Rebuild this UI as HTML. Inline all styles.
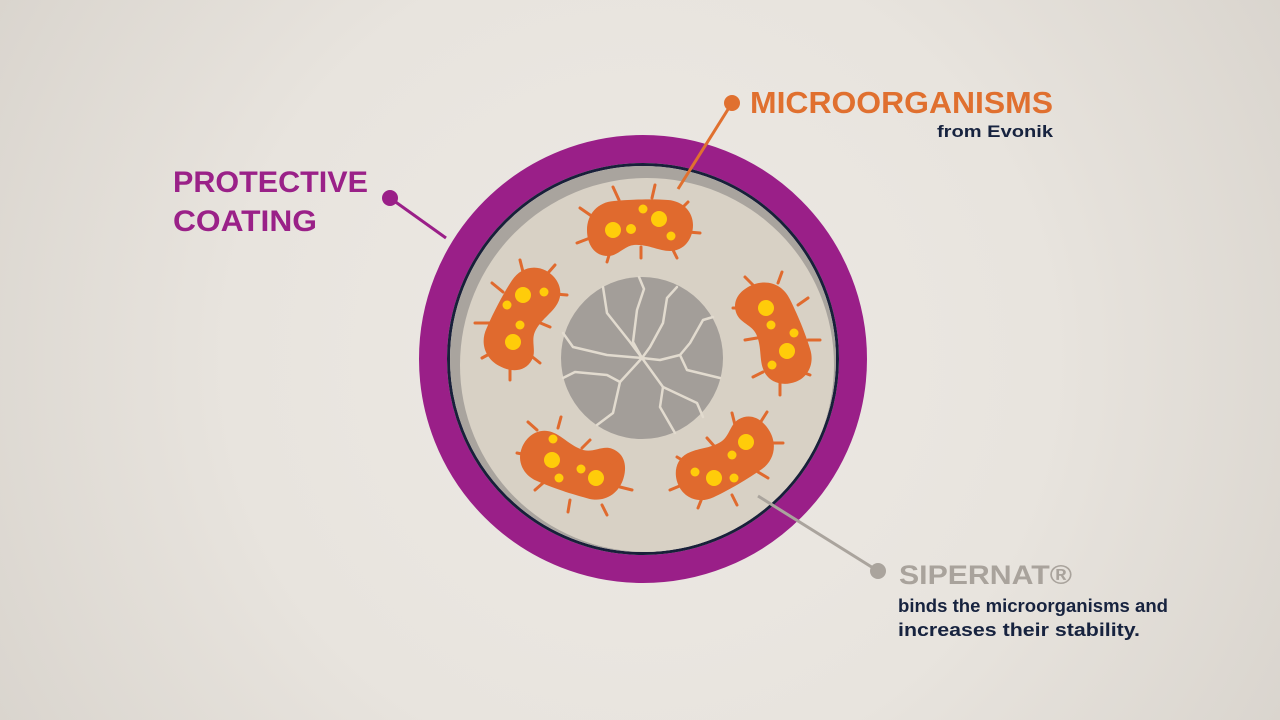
<!DOCTYPE html>
<html>
<head>
<meta charset="utf-8">
<style>
  html, body { margin: 0; padding: 0; width: 1280px; height: 720px; overflow: hidden; }
  body { background: #e6e2dc; }
  svg { display: block; }
</style>
</head>
<body>
<svg width="1280" height="720" viewBox="0 0 1280 720" xmlns="http://www.w3.org/2000/svg">
  <defs>
    <radialGradient id="bg" cx="640" cy="360" r="820" gradientUnits="userSpaceOnUse">
      <stop offset="0" stop-color="#ede9e4"/>
      <stop offset="0.5" stop-color="#e8e4de"/>
      <stop offset="1" stop-color="#d6d1ca"/>
    </radialGradient>
    <clipPath id="inner">
      <circle cx="643" cy="359" r="193"/>
    </clipPath>
    <path id="body" d="M -26,-26 C -5,-28 15,-28 28,-27 C 43,-26 53,-15 53,-2 C 53,12 44,24 30,24 C 18,24 8,17 -6,18 C -16,19 -22,29 -32,29 C -46,29 -53,17 -53,3 C -53,-13 -42,-25 -26,-26 Z"/>
  </defs>

  <rect x="0" y="0" width="1280" height="720" fill="url(#bg)"/>

  <!-- connector lines -->
  <line x1="390" y1="198" x2="446" y2="238" stroke="#9a1f88" stroke-width="3"/>
  <circle cx="390" cy="198" r="8" fill="#9a1f88"/>

  <!-- ring -->
  <circle cx="643" cy="359" r="210" fill="none" stroke="#9a1f88" stroke-width="28"/>
  <circle cx="643" cy="359" r="194.5" fill="none" stroke="#18203a" stroke-width="3"/>
  <circle cx="643" cy="359" r="193" fill="#a9a49e"/>
  <g clip-path="url(#inner)">
    <circle cx="647" cy="365" r="187" fill="#d8d1c5"/>
  </g>

  <!-- core -->
  <circle cx="642" cy="358" r="81" fill="#a39e99"/>
  <g fill="none" stroke="#e2dbcf" stroke-width="2.5" stroke-linejoin="round" stroke-linecap="round">
    <polyline points="603,287 607,313 630,342 642,358"/>
    <polyline points="639,277 644,289 637,310 633,342 642,358"/>
    <polyline points="677,287 667,298 663,323 650,347 642,358"/>
    <polyline points="713,317 703,320 690,343 680,355 660,360 642,358"/>
    <polyline points="680,355 687,370 720,378"/>
    <polyline points="563,333 573,347 607,355 642,358"/>
    <polyline points="563,378 575,372 607,375 620,382"/>
    <polyline points="642,358 620,382 613,413 597,425"/>
    <polyline points="642,358 663,387 660,407 675,433"/>
    <polyline points="663,387 697,403 703,417"/>
  </g>

  <!-- orange connector -->
  <line x1="732" y1="103" x2="678" y2="189" stroke="#e0702f" stroke-width="3"/>
  <circle cx="732" cy="103" r="8" fill="#e0702f"/>

  <!-- bacteria bodies -->
  <g fill="#e06a2e">
    <use href="#body" transform="translate(640,227) rotate(0)"/>
    <use href="#body" transform="translate(522,318) rotate(-61)"/>
    <use href="#body" transform="translate(775,333) rotate(69)"/>
    <use href="#body" transform="translate(572,465) rotate(200)"/>
    <use href="#body" transform="translate(725,460) rotate(151)"/>
  </g>

  <!-- spikes -->
  <g stroke="#e06a2e" stroke-width="3" stroke-linecap="round">
    <!-- top -->
    <line x1="613" y1="187" x2="619" y2="200"/>
    <line x1="655" y1="185" x2="652" y2="198"/>
    <line x1="688" y1="202" x2="682" y2="208"/>
    <line x1="580" y1="208" x2="593" y2="217"/>
    <line x1="700" y1="233" x2="688" y2="232"/>
    <line x1="577" y1="243" x2="590" y2="238"/>
    <line x1="607" y1="262" x2="610" y2="252"/>
    <line x1="641" y1="258" x2="641" y2="247"/>
    <line x1="677" y1="258" x2="672" y2="248"/>
    <!-- left -->
    <line x1="520" y1="260" x2="523" y2="272"/>
    <line x1="555" y1="265" x2="548" y2="273"/>
    <line x1="492" y1="283" x2="503" y2="292"/>
    <line x1="567" y1="295" x2="555" y2="294"/>
    <line x1="475" y1="323" x2="490" y2="323"/>
    <line x1="550" y1="327" x2="538" y2="322"/>
    <line x1="482" y1="358" x2="493" y2="352"/>
    <line x1="540" y1="363" x2="530" y2="355"/>
    <line x1="510" y1="380" x2="510" y2="367"/>
    <!-- right -->
    <line x1="745" y1="277" x2="755" y2="287"/>
    <line x1="782" y1="272" x2="778" y2="283"/>
    <line x1="733" y1="308" x2="745" y2="308"/>
    <line x1="808" y1="298" x2="798" y2="305"/>
    <line x1="745" y1="340" x2="757" y2="338"/>
    <line x1="820" y1="340" x2="808" y2="340"/>
    <line x1="753" y1="377" x2="763" y2="372"/>
    <line x1="810" y1="375" x2="802" y2="372"/>
    <line x1="780" y1="395" x2="780" y2="383"/>
    <!-- bottom-left -->
    <line x1="528" y1="422" x2="537" y2="430"/>
    <line x1="561" y1="417" x2="558" y2="428"/>
    <line x1="517" y1="453" x2="527" y2="455"/>
    <line x1="590" y1="440" x2="582" y2="448"/>
    <line x1="620" y1="457" x2="612" y2="463"/>
    <line x1="535" y1="490" x2="543" y2="483"/>
    <line x1="632" y1="490" x2="620" y2="487"/>
    <line x1="568" y1="512" x2="570" y2="500"/>
    <line x1="607" y1="515" x2="602" y2="505"/>
    <!-- bottom-right -->
    <line x1="732" y1="413" x2="735" y2="425"/>
    <line x1="767" y1="412" x2="760" y2="423"/>
    <line x1="707" y1="438" x2="715" y2="447"/>
    <line x1="783" y1="443" x2="772" y2="443"/>
    <line x1="677" y1="457" x2="687" y2="463"/>
    <line x1="768" y1="478" x2="758" y2="472"/>
    <line x1="670" y1="490" x2="682" y2="485"/>
    <line x1="698" y1="508" x2="702" y2="498"/>
    <line x1="737" y1="505" x2="732" y2="495"/>
  </g>

  <!-- spots -->
  <g fill="#ffcc0a">
    <!-- top -->
    <circle cx="613" cy="230" r="8"/>
    <circle cx="631" cy="229" r="5"/>
    <circle cx="643" cy="209" r="4.5"/>
    <circle cx="659" cy="219" r="8"/>
    <circle cx="671" cy="236" r="4.5"/>
    <!-- left -->
    <circle cx="523" cy="295" r="8"/>
    <circle cx="544" cy="292" r="4.5"/>
    <circle cx="507" cy="305" r="4.5"/>
    <circle cx="520" cy="325" r="4.5"/>
    <circle cx="513" cy="342" r="8"/>
    <!-- right -->
    <circle cx="766" cy="308" r="8"/>
    <circle cx="771" cy="325" r="4.5"/>
    <circle cx="794" cy="333" r="4.5"/>
    <circle cx="787" cy="351" r="8"/>
    <circle cx="772" cy="365" r="4.5"/>
    <!-- bottom-left -->
    <circle cx="553" cy="439" r="4.5"/>
    <circle cx="552" cy="460" r="8"/>
    <circle cx="559" cy="478" r="4.5"/>
    <circle cx="581" cy="469" r="4.5"/>
    <circle cx="596" cy="478" r="8"/>
    <!-- bottom-right -->
    <circle cx="746" cy="442" r="8"/>
    <circle cx="732" cy="455" r="4.5"/>
    <circle cx="695" cy="472" r="4.5"/>
    <circle cx="714" cy="478" r="8"/>
    <circle cx="734" cy="478" r="4.5"/>
  </g>

  <!-- grey connector -->
  <line x1="758" y1="496" x2="878" y2="571" stroke="#aaa49d" stroke-width="3"/>
  <circle cx="878" cy="571" r="8" fill="#aaa49d"/>

  <!-- labels -->
  <g font-family="'Liberation Sans', 'DejaVu Sans', sans-serif" font-weight="bold">
    <text x="173" y="192" font-size="30" fill="#9a2188" textLength="195" lengthAdjust="spacingAndGlyphs">PROTECTIVE</text>
    <text x="173" y="231" font-size="30" fill="#9a2188" textLength="144" lengthAdjust="spacingAndGlyphs">COATING</text>
    <text x="750" y="113" font-size="31" fill="#e0702f" textLength="303" lengthAdjust="spacingAndGlyphs">MICROORGANISMS</text>
    <text x="937" y="137" font-size="17" fill="#17233f" textLength="116" lengthAdjust="spacingAndGlyphs">from Evonik</text>
    <text x="899" y="584" font-size="27" fill="#a9a39c" textLength="173" lengthAdjust="spacingAndGlyphs">SIPERNAT®</text>
    <text x="898" y="612" font-size="18.5" fill="#17233f" textLength="270" lengthAdjust="spacingAndGlyphs">binds the microorganisms and</text>
    <text x="898" y="636" font-size="18.5" fill="#17233f" textLength="242" lengthAdjust="spacingAndGlyphs">increases their stability.</text>
  </g>
</svg>
</body>
</html>
